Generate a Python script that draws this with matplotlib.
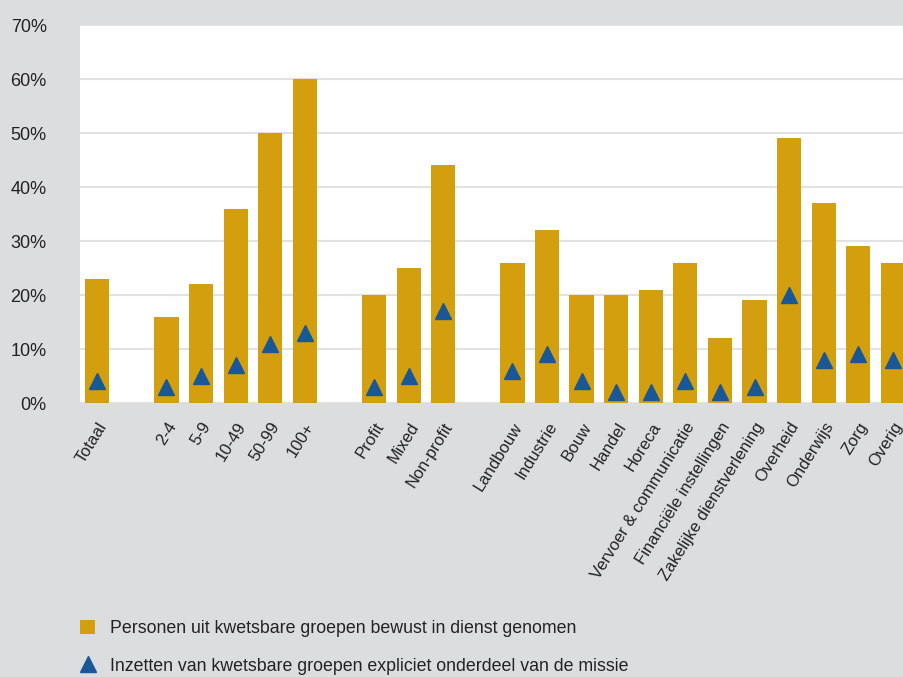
import numpy as np
import matplotlib.pyplot as plt
from matplotlib.lines import Line2D
from matplotlib.patches import Patch

# categories, with None as a blank gap slot between groups
categories = ["Totaal", None, "2-4", "5-9", "10-49", "50-99", "100+", None,
              "Profit", "Mixed", "Non-profit", None,
              "Landbouw", "Industrie", "Bouw", "Handel", "Horeca",
              "Vervoer & communicatie", "Financiële instellingen",
              "Zakelijke dienstverlening", "Overheid", "Onderwijs", "Zorg", "Overig"]

bewust = [23, None, 16, 22, 36, 50, 60, None,
          20, 25, 44, None,
          26, 32, 20, 20, 21, 26, 12, 19, 49, 37, 29, 26]

missie = [4, None, 3, 5, 7, 11, 13, None,
          3, 5, 17, None,
          6, 9, 4, 2, 2, 4, 2, 3, 20, 8, 9, 8]

legend_labels = ["Personen uit kwetsbare groepen bewust in dienst genomen",
                 "Inzetten van kwetsbare groepen expliciet onderdeel van de missie"]

bg = "#dcdddf"
gold = "#d49f0f"
blue = "#1a5796"

plt.rcParams['font.family'] = ['Liberation Sans', 'DejaVu Sans']

fig = plt.figure(figsize=(9.04, 6.77), dpi=100, facecolor=bg)
ax = fig.add_axes([80/904, (677-403)/677, 1 - 80/904, 378/677])
ax.set_facecolor("white")

idx = [i for i, c in enumerate(categories) if c is not None]
xs = np.array(idx)
bars = np.array([bewust[i] for i in idx], dtype=float)
tri = np.array([missie[i] for i in idx], dtype=float)

ax.bar(xs, bars / 100, width=0.7, color=gold, zorder=2)
ax.plot(xs, tri / 100, linestyle="none", marker="^", markersize=11,
        color=blue, zorder=3)

ax.set_xlim(-0.5, 23.32)
ax.set_ylim(0, 0.7)
yt = np.arange(0, 0.71, 0.1)
ax.set_yticks(yt)
ax.set_yticklabels([f"{int(round(v*100))}%" for v in yt])
ax.yaxis.grid(True, color="#e2e2e2", linewidth=1.5, zorder=0)
ax.set_axisbelow(True)

ax.set_xticks(xs)
ax.set_xticklabels([categories[i] for i in idx], rotation=58, ha="right",
                   rotation_mode="anchor")
ax.tick_params(axis="both", length=0, colors="#222222")
ax.tick_params(axis="x", pad=12, labelsize=12)
ax.tick_params(axis="y", pad=24, labelsize=13)

for s in ax.spines.values():
    s.set_visible(False)

handles = [Patch(facecolor=gold, edgecolor="none"),
           Line2D([], [], linestyle="none", marker="^", markersize=11, color=blue)]
fig.legend(handles, legend_labels, loc="lower left",
           bbox_to_anchor=(80/904, 2/677), frameon=False, fontsize=12.8,
           borderpad=0, borderaxespad=0,
           handlelength=0.85, handleheight=0.85, handletextpad=0.85,
           labelspacing=1.15, labelcolor="#222222")

fig.savefig("out.png", dpi=100, facecolor=bg)
